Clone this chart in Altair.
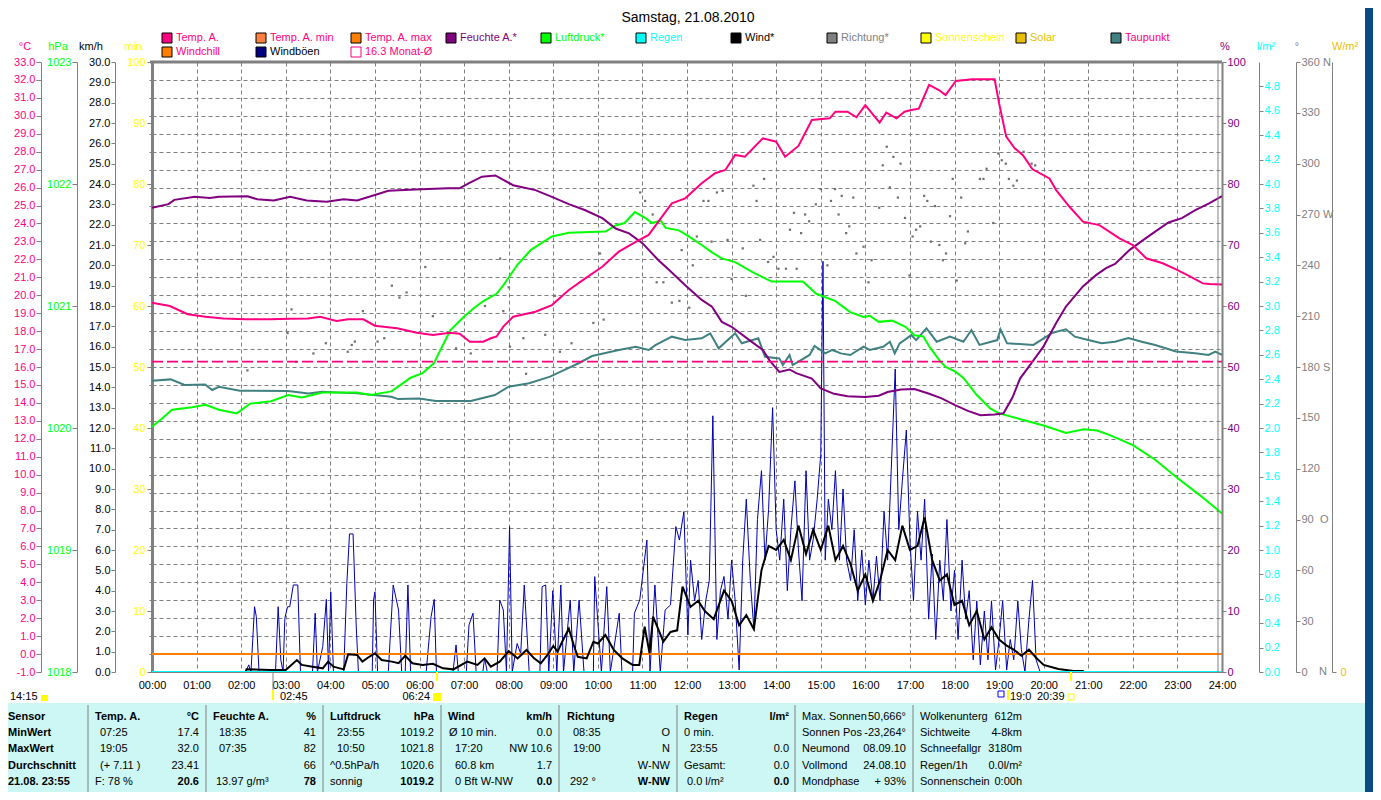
import altair as alt
import pandas as pd

TITLE = "Samstag, 21.08.2010"
HOURS = list(range(0, 25))

# ---------------- data (hour, value) ----------------
TEMP = [(0, 19.58), (0.4, 19.40), (0.8, 18.94), (1.2, 18.80), (1.6, 18.71), (2.1, 18.66), (2.65, 18.66),
        (3.1, 18.69), (3.5, 18.70), (3.77, 18.80), (4.14, 18.56), (4.4, 18.66), (4.74, 18.66), (5.0, 18.30),
        (5.19, 18.25), (5.5, 18.16), (5.94, 17.91), (6.3, 17.78), (6.68, 17.91), (6.9, 17.85), (7.13, 17.41),
        (7.43, 17.41), (7.6, 17.60), (7.73, 17.70), (7.88, 18.25), (8.1, 18.80), (8.6, 19.08), (8.97, 19.45),
        (9.35, 20.29), (9.72, 20.94), (10.1, 21.59), (10.47, 22.43), (10.85, 22.98), (11.14, 23.36),
        (11.44, 24.38), (11.66, 25.12), (11.96, 25.40), (12.33, 26.24), (12.63, 26.80), (12.86, 26.98),
        (13.08, 27.82), (13.3, 27.72), (13.7, 28.75), (14.0, 28.56), (14.2, 27.72), (14.5, 28.32),
        (14.8, 29.77), (15.2, 29.86), (15.33, 30.23), (15.6, 30.23), (15.8, 29.92), (16.0, 30.60),
        (16.32, 29.62), (16.47, 30.18), (16.7, 29.86), (16.88, 30.23), (17.03, 30.32), (17.2, 30.40),
        (17.43, 31.72), (17.65, 31.44), (17.8, 31.16), (18.03, 31.94), (18.4, 32.04), (18.9, 32.04),
        (19.0, 30.70), (19.16, 28.84), (19.35, 28.19), (19.53, 27.82), (19.75, 27.02), (20.13, 26.51),
        (20.28, 25.86), (20.58, 24.93), (20.88, 24.10), (21.25, 23.91), (21.7, 23.17), (22.0, 22.80),
        (22.3, 22.06), (22.67, 21.78), (22.97, 21.44), (23.27, 21.07), (23.57, 20.66), (23.72, 20.63),
        (24.0, 20.6)]

HUM = [(0, 76.1), (0.37, 76.7), (0.5, 77.4), (0.96, 77.9), (1.3, 77.7), (1.5, 77.9), (2.14, 78.0),
       (2.36, 77.5), (2.73, 77.3), (3.1, 77.9), (3.47, 77.3), (3.92, 77.1), (4.3, 77.5), (4.6, 77.3),
       (5.0, 78.2), (5.3, 78.9), (5.9, 79.1), (6.64, 79.3), (6.9, 79.3), (7.1, 80.1), (7.4, 81.2),
       (7.7, 81.4), (7.85, 80.8), (8.1, 79.8), (8.6, 79.0), (8.97, 77.9), (9.35, 76.7), (9.72, 75.7),
       (10.1, 74.4), (10.4, 72.7), (10.7, 71.9), (11.0, 70.3), (11.36, 67.5), (11.6, 65.9), (11.96, 63.4),
       (12.33, 61.0), (12.56, 59.9), (12.78, 57.4), (13.0, 56.6), (13.4, 54.4), (13.7, 52.8), (13.85, 51.1),
       (14.07, 49.2), (14.3, 49.6), (14.45, 49.0), (14.8, 48.1), (15.0, 46.5), (15.3, 45.6), (15.6, 45.2),
       (16.0, 45.1), (16.3, 45.3), (16.5, 45.9), (16.8, 46.3), (17.1, 46.4), (17.4, 45.7), (17.7, 44.9),
       (18.0, 43.8), (18.3, 42.8), (18.58, 42.1), (18.9, 42.2), (19.1, 42.4), (19.3, 45.0), (19.47, 48.1),
       (19.77, 51.1), (19.99, 53.3), (20.28, 57.2), (20.5, 59.9), (20.88, 63.2), (21.18, 65.1),
       (21.4, 66.2), (21.6, 66.9), (21.93, 69.2), (22.23, 70.8), (22.5, 72.2), (22.8, 73.7), (23.1, 74.4),
       (23.4, 75.7), (23.7, 76.8), (23.85, 77.4), (24.0, 78.0)]

PRES = [(0, 1020.01), (0.2, 1020.07), (0.45, 1020.15), (0.9, 1020.17), (1.2, 1020.19), (1.5, 1020.15),
        (1.9, 1020.12), (2.2, 1020.20), (2.67, 1020.22), (3.06, 1020.27), (3.36, 1020.25), (3.83, 1020.29),
        (4.6, 1020.29), (4.9, 1020.27), (5.37, 1020.30), (5.68, 1020.38), (5.79, 1020.41), (6.07, 1020.45),
        (6.32, 1020.53), (6.69, 1020.80), (6.99, 1020.91), (7.21, 1020.98), (7.43, 1021.04), (7.73, 1021.10),
        (7.9, 1021.18), (8.03, 1021.25), (8.2, 1021.34), (8.5, 1021.46), (8.97, 1021.57), (9.35, 1021.60),
        (10.17, 1021.61), (10.4, 1021.66), (10.6, 1021.68), (10.83, 1021.77), (11.07, 1021.72),
        (11.22, 1021.68), (11.41, 1021.70), (11.52, 1021.64), (11.82, 1021.62), (12.04, 1021.57),
        (12.33, 1021.50), (12.56, 1021.44), (12.78, 1021.39), (13.08, 1021.36), (13.46, 1021.28),
        (13.9, 1021.20), (14.6, 1021.20), (14.9, 1021.10), (15.33, 1021.04), (15.66, 1020.95),
        (15.96, 1020.91), (16.1, 1020.92), (16.3, 1020.87), (16.6, 1020.88), (16.9, 1020.83),
        (17.1, 1020.76), (17.3, 1020.75), (17.43, 1020.67), (17.65, 1020.56), (17.8, 1020.50),
        (18.03, 1020.46), (18.2, 1020.41), (18.5, 1020.27), (18.8, 1020.16), (19.0, 1020.12),
        (19.5, 1020.07), (20.0, 1020.02), (20.5, 1019.96), (20.9, 1019.99), (21.2, 1019.98),
        (21.5, 1019.94), (22.0, 1019.86), (22.5, 1019.74), (23.0, 1019.59), (23.5, 1019.45), (24.0, 1019.3)]

DEW = [(0, 15.24), (0.42, 15.31), (0.73, 15.0), (1.19, 15.03), (1.35, 14.72), (1.5, 14.90), (1.97, 14.68),
       (3.05, 14.66), (3.51, 14.53), (3.82, 14.62), (4.6, 14.53), (5.37, 14.34), (5.52, 14.21), (5.99, 14.25),
       (6.37, 14.10), (7.15, 14.10), (7.69, 14.44), (8.0, 14.90), (8.46, 15.09), (8.93, 15.46), (9.24, 15.83),
       (9.57, 16.21), (9.87, 16.61), (10.47, 16.95), (10.85, 17.13), (11.14, 16.95), (11.3, 17.23),
       (11.66, 17.69), (11.96, 17.50), (12.33, 17.60), (12.52, 17.88), (12.71, 17.04), (13.08, 17.88),
       (13.23, 17.32), (13.6, 17.60), (13.75, 16.57), (14.07, 16.48), (14.15, 16.11), (14.3, 16.67),
       (14.37, 16.11), (14.75, 16.67), (14.86, 17.17), (15.1, 16.76), (15.26, 16.95), (15.45, 16.76),
       (15.66, 16.67), (15.96, 17.13), (16.1, 16.95), (16.4, 17.13), (16.55, 17.41), (16.66, 16.76),
       (16.77, 17.32), (17.03, 17.78), (17.14, 17.50), (17.37, 18.16), (17.6, 17.41), (17.9, 17.69),
       (18.2, 17.41), (18.38, 18.06), (18.56, 17.23), (18.96, 17.50), (19.03, 18.10), (19.18, 17.32),
       (19.77, 17.23), (20.0, 17.60), (20.2, 17.91), (20.5, 18.10), (20.7, 17.69), (21.0, 17.50),
       (21.3, 17.32), (21.6, 17.41), (21.9, 17.61), (22.2, 17.41), (22.5, 17.23), (22.97, 16.86),
       (23.4, 16.76), (23.7, 16.67), (23.85, 16.86), (24.0, 16.67)]

WIND = [(2.1, 0.0), (2.12, 0.13), (2.66, 0.1), (3.0, 0.1), (3.25, 0.59), (3.36, 0.35), (3.6, 0.26),
        (3.83, 0.18), (3.95, 0.51), (4.07, 0.26), (4.3, 0.13), (4.4, 0.87), (4.6, 0.84), (4.72, 0.51),
        (4.84, 0.7), (5.0, 0.92), (5.15, 0.59), (5.38, 0.51), (5.53, 0.43), (5.68, 0.8), (5.84, 0.43),
        (6.07, 0.35), (6.3, 0.4), (6.53, 0.18), (6.76, 0.13), (7.07, 0.51), (7.3, 0.35), (7.46, 0.67),
        (7.6, 0.26), (7.8, 0.51), (8.0, 1.03), (8.2, 0.67), (8.4, 1.08), (8.57, 0.67), (8.72, 0.43),
        (8.87, 0.84), (9.0, 1.28), (9.1, 1.0), (9.2, 1.49), (9.35, 2.13), (9.46, 1.33), (9.55, 0.75),
        (9.75, 0.67), (9.9, 1.49), (10.0, 1.4), (10.17, 1.82), (10.36, 1.08), (10.55, 0.67), (10.78, 0.35),
        (10.93, 0.35), (11.05, 2.23), (11.16, 0.92), (11.24, 2.72), (11.47, 1.49), (11.63, 1.97),
        (11.78, 2.05), (11.9, 4.2), (12.08, 3.2), (12.25, 3.5), (12.4, 3.0), (12.6, 2.6), (12.83, 4.0),
        (13.0, 3.5), (13.17, 2.3), (13.33, 2.8), (13.5, 2.1), (13.67, 5.0), (13.83, 6.2), (14.0, 6.0),
        (14.17, 6.5), (14.33, 5.5), (14.5, 7.2), (14.67, 5.8), (14.83, 7.0), (15.0, 6.0), (15.17, 7.2),
        (15.33, 5.5), (15.5, 6.2), (15.67, 5.3), (15.83, 4.0), (16.0, 4.8), (16.17, 3.5), (16.33, 4.5),
        (16.5, 6.0), (16.67, 5.5), (16.83, 7.2), (17.0, 6.0), (17.17, 6.2), (17.33, 7.6), (17.5, 5.5),
        (17.67, 4.5), (17.83, 4.8), (18.0, 3.3), (18.17, 3.5), (18.33, 2.3), (18.5, 3.0), (18.67, 1.6),
        (18.83, 2.2), (19.0, 1.6), (19.17, 1.3), (19.33, 1.1), (19.5, 0.8), (19.67, 1.1), (19.83, 0.7),
        (20.0, 0.35), (20.33, 0.15), (20.67, 0.05), (20.9, 0.05)]

GUST = [(2.1, 0), (2.17, 0.35), (2.22, 0), (2.3, 3.21), (2.34, 2.72), (2.4, 0), (2.77, 0), (2.83, 3.21),
        (2.89, 0.59), (2.94, 0), (2.98, 2.64), (3.04, 3.21), (3.09, 3.21), (3.17, 4.28), (3.27, 4.28),
        (3.33, 0), (3.6, 0), (3.66, 2.89), (3.71, 0), (3.83, 1.25), (3.91, 3.57), (3.96, 0), (4.01, 3.94),
        (4.07, 0), (4.3, 0), (4.37, 4.36), (4.43, 6.79), (4.51, 6.79), (4.58, 2.31), (4.63, 0), (4.94, 0),
        (4.97, 3.54), (5.0, 3.94), (5.06, 0), (5.3, 0), (5.41, 4.28), (5.53, 3.05), (5.6, 0), (5.68, 0),
        (5.74, 4.28), (5.8, 0), (6.15, 0), (6.18, 0.75), (6.26, 2.72), (6.33, 3.57), (6.38, 0), (6.75, 0),
        (6.82, 1.33), (6.87, 0), (7.05, 0), (7.11, 2.31), (7.2, 2.89), (7.27, 0), (7.42, 0), (7.46, 0.67),
        (7.52, 0), (7.74, 0), (7.8, 3.54), (7.88, 3.05), (7.95, 0), (8.02, 7.15), (8.08, 0), (8.19, 1.4),
        (8.27, 0.9), (8.35, 4.28), (8.46, 0), (8.7, 0), (8.75, 4.2), (8.83, 4.28), (8.9, 0), (8.99, 4.0),
        (9.08, 0), (9.17, 4.28), (9.23, 0), (9.38, 3.54), (9.46, 0), (9.58, 3.54), (9.69, 0), (9.9, 0),
        (9.93, 4.69), (10.0, 2.48), (10.08, 0), (10.2, 4.2), (10.28, 0), (10.48, 2.89), (10.54, 0),
        (10.78, 0), (10.82, 2.89), (10.94, 3.54), (11.1, 6.49), (11.17, 0), (11.28, 4.28), (11.4, 0),
        (11.51, 3.05), (11.63, 3.3), (11.75, 7.15), (11.83, 6.49), (11.93, 7.89), (12.02, 1.82),
        (12.08, 5.5), (12.17, 3.5), (12.25, 4.5), (12.33, 1.6), (12.42, 3.5), (12.5, 4.5), (12.58, 12.6),
        (12.67, 1.6), (12.75, 4.0), (12.83, 4.7), (12.92, 2.6), (13.0, 5.5), (13.08, 3.5), (13.17, 0.1),
        (13.25, 5.5), (13.33, 8.5), (13.42, 4.5), (13.5, 2.1), (13.58, 7.5), (13.67, 9.9), (13.75, 5.5),
        (13.83, 8.0), (13.92, 13.0), (14.0, 7.0), (14.08, 5.5), (14.17, 8.5), (14.25, 4.0), (14.33, 7.0),
        (14.42, 9.4), (14.5, 6.0), (14.58, 3.5), (14.67, 9.9), (14.75, 5.5), (14.83, 6.5), (14.92, 8.5),
        (15.0, 10.7), (15.05, 20.2), (15.1, 5.5), (15.17, 8.5), (15.25, 7.0), (15.33, 9.9), (15.42, 5.5),
        (15.5, 9.0), (15.58, 5.5), (15.67, 4.5), (15.75, 7.0), (15.83, 3.5), (15.92, 6.0), (16.0, 3.3),
        (16.08, 5.5), (16.17, 3.5), (16.25, 5.7), (16.33, 3.5), (16.42, 7.9), (16.5, 5.5), (16.58, 9.9),
        (16.67, 14.9), (16.75, 7.0), (16.83, 9.4), (16.92, 11.9), (17.0, 6.5), (17.08, 3.5), (17.17, 7.9),
        (17.25, 5.5), (17.33, 8.5), (17.42, 2.6), (17.5, 5.8), (17.58, 1.6), (17.67, 5.5), (17.75, 3.5),
        (17.83, 7.5), (17.92, 3.0), (18.0, 5.0), (18.08, 1.6), (18.17, 5.5), (18.25, 2.6), (18.33, 4.0),
        (18.42, 0.6), (18.5, 3.5), (18.58, 0.35), (18.67, 3.0), (18.75, 0.6), (18.83, 3.5), (18.92, 0.1),
        (19.0, 1.6), (19.08, 3.5), (19.17, 0.1), (19.25, 1.6), (19.33, 0.6), (19.42, 3.5), (19.5, 1.1),
        (19.58, 0), (19.67, 2.6), (19.75, 4.5), (19.83, 0.6), (19.92, 0), (20.0, 0)]

DIR = [(2.14, 178), (3.04, 200), (3.13, 214), (3.23, 183), (3.62, 188), (3.9, 194), (4.39, 189), (4.48, 193),
       (4.55, 195), (4.73, 213), (5.06, 195), (5.21, 197), (5.38, 228), (5.55, 221), (5.71, 224), (6.13, 239),
       (6.3, 210), (6.82, 191), (7.15, 188), (7.47, 216), (7.81, 244), (7.88, 213), (8.0, 227), (8.03, 192),
       (8.33, 197), (8.39, 176), (8.82, 199), (9.04, 222), (9.15, 189), (9.41, 194), (9.9, 206), (10.05, 247),
       (10.13, 208), (10.95, 283), (11.06, 278), (11.23, 270), (11.32, 230), (11.47, 230), (11.66, 218),
       (11.83, 219), (11.88, 249), (12.05, 215), (12.13, 240), (12.22, 257), (12.37, 278), (12.48, 278),
       (12.55, 254), (12.67, 283), (12.8, 284), (12.91, 255), (13.0, 232), (13.25, 250), (13.32, 222),
       (13.49, 287), (13.56, 278), (13.64, 255), (13.73, 291), (13.82, 242), (13.94, 245), (14.05, 238),
       (14.22, 238), (14.31, 261), (14.4, 271), (14.46, 238), (14.56, 259), (14.65, 270), (14.74, 266),
       (14.89, 276), (15.0, 285), (15.15, 240), (15.23, 278), (15.32, 285), (15.4, 270), (15.47, 281),
       (15.57, 259), (15.64, 263), (15.73, 280), (15.8, 247), (15.96, 251), (16.07, 230), (16.14, 243),
       (16.31, 274), (16.39, 299), (16.48, 310), (16.55, 286), (16.63, 304), (16.73, 280), (16.79, 300),
       (16.89, 268), (16.99, 234), (17.06, 257), (17.14, 261), (17.23, 263), (17.32, 281), (17.39, 278),
       (17.47, 254), (17.56, 275), (17.66, 252), (17.74, 243), (17.81, 247), (17.9, 269), (17.96, 291),
       (18.05, 231), (18.15, 280), (18.24, 253), (18.3, 260), (18.57, 291), (18.65, 291), (18.72, 297),
       (18.87, 265), (18.98, 306), (19.06, 302), (19.15, 300), (19.22, 291), (19.32, 287), (19.4, 290),
       (19.55, 307), (19.73, 300), (19.81, 299)]

MONAT_AVG = 16.3
WINDCHILL = 0.0
RAIN = 0.0
SUN_MIN = 0.0
SOLAR = 0.0

LEGEND_ROW1 = ["Temp. A.", "Temp. A. min", "Temp. A. max", "Feuchte A.*", "Luftdruck*", "Regen",
               "Wind*", "Richtung*", "Sonnenschein", "Solar", "Taupunkt"]
LEGEND_ROW2 = ["Windchill", "Windböen", f"{MONAT_AVG} Monat-Ø"]

TABLE_HEAD = ["Sensor", "MinWert", "MaxWert", "Durchschnitt", "21.08. 23:55"]

# ---------------- layout ----------------
PX0, PY0, PW, PH = 152, 62, 1070, 610
FONT = "Liberation Sans"
C_TEMP, C_HUM, C_PRES, C_DEW = "#FF0080", "#800080", "#00FF00", "#408080"
C_GUST, C_DIR, C_RAIN, C_SUN, C_SOLAR = "#0000B0", "#707070", "#00FFFF", "#FFFF00", "#E8C000"
GRAY = "#808080"

XS = alt.Scale(domain=[0, 24], nice=False, zero=False)
XAX = alt.Axis(values=HOURS, labelExpr="(datum.value < 10 ? '0' : '') + datum.value + ':00'",
               grid=True, gridDash=[4, 3], gridColor=GRAY, gridOpacity=1, ticks=False, labelPadding=7,
               labelFlush=False, domainColor=GRAY, labelColor="black", labelFont=FONT, labelFontSize=11,
               title=None)
XENC = alt.X("h:Q", scale=XS, axis=XAX)


def ysc(lo, hi):
    return alt.Scale(domain=[lo, hi], nice=False, zero=False)


def side_axis(orient, offset, values, color, expr=None, tick=5, pad=1, grid=False, labels=True, dwidth=1):
    kw = dict(orient=orient, offset=offset, values=values, labelColor=color, tickColor=GRAY,
              domainColor=GRAY, domainWidth=dwidth, tickSize=tick, labelPadding=pad, grid=grid,
              labels=labels, labelFlush=False, title=None, labelFont=FONT, labelFontSize=11)
    if expr:
        kw["labelExpr"] = expr
    if grid:
        kw.update(gridDash=[4, 3], gridColor=GRAY, gridOpacity=1)
    return alt.Axis(**kw)


def series(pairs, lo, hi, color, width, axis, dash=None):
    df = pd.DataFrame(pairs, columns=["h", "v"])
    mk = dict(color=color, strokeWidth=width, clip=True)
    if dash:
        mk["strokeDash"] = dash
    return alt.Chart(df).mark_line(**mk).encode(
        x=XENC, y=alt.Y("v:Q", scale=ysc(lo, hi), axis=axis))


def flat(value):
    return [(0, value), (24, value)]


def px(v):
    return v - PX0


def py(v):
    return v - PY0


def text_layer(items, align="left", bold=False, size=11):
    df = pd.DataFrame([{"t": t, "x": px(x), "y": py(y), "c": c} for (t, x, y, c) in items])
    return alt.Chart(df).mark_text(align=align, baseline="middle", font=FONT, fontSize=size,
                                   fontWeight="bold" if bold else "normal").encode(
        x=alt.X("x:Q", scale=None, axis=None), y=alt.Y("y:Q", scale=None, axis=None),
        text="t:N", color=alt.Color("c:N", scale=None))


def rect_layer(items, sw=1):
    df = pd.DataFrame([{"x1": px(a), "y1": py(b), "x2": px(c), "y2": py(d), "f": f, "s": s}
                       for (a, b, c, d, f, s) in items])
    return alt.Chart(df).mark_rect(strokeWidth=sw).encode(
        x=alt.X("x1:Q", scale=None, axis=None), x2="x2:Q",
        y=alt.Y("y1:Q", scale=None, axis=None), y2="y2:Q",
        fill=alt.Fill("f:N", scale=None), stroke=alt.Stroke("s:N", scale=None))


def rule_layer(items, width=1):
    df = pd.DataFrame([{"x1": px(a), "y1": py(b), "x2": px(c), "y2": py(d), "c": col}
                       for (a, b, c, d, col) in items])
    return alt.Chart(df).mark_rule(strokeWidth=width).encode(
        x=alt.X("x1:Q", scale=None, axis=None), x2="x2:Q",
        y=alt.Y("y1:Q", scale=None, axis=None), y2="y2:Q",
        color=alt.Color("c:N", scale=None))


# ---------------- data layers ----------------
neg_fmt = "(datum.value < 0 ? '-' : '') + format(abs(datum.value), '.1f')"
dir_expr = ("datum.value == 360 ? '360 N' : datum.value == 270 ? '270 W' : "
            "datum.value == 180 ? '180 S' : datum.label")

sun_layer = series(flat(SUN_MIN), 0, 100, C_SUN, 1,
                   side_axis("left", 0, list(range(0, 101, 10)), C_SUN, tick=5, pad=2))
solar_layer = series(flat(SOLAR), 0, 1000, C_SOLAR, 1,
                     side_axis("right", 110, [0], C_SOLAR, tick=4, pad=4))
grid_layer = series(flat(-1), -1, 33, GRAY, 0.5,
                    side_axis("left", 0, list(range(-1, 34)), GRAY, tick=3, pad=1, grid=True,
                              labels=False, dwidth=3))
gust_layer = series(GUST, 0, 30, C_GUST, 1, None)
chill_layer = series(flat(WINDCHILL), -1, 33, "#FF8000", 2, None)
wind_layer = series(WIND, 0, 30, "black", 2,
                    side_axis("left", 37, list(range(0, 31)), "black", expr="format(datum.value, '.1f')",
                              tick=4, pad=1))
dir_layer = alt.Chart(pd.DataFrame(DIR, columns=["h", "v"])).mark_square(
    size=5, color=C_DIR, opacity=1, filled=True).encode(
    x=XENC, y=alt.Y("v:Q", scale=ysc(0, 360),
                    axis=side_axis("right", 74, list(range(0, 361, 30)), GRAY, expr=dir_expr, tick=4, pad=1)))
dew_layer = series(DEW, -1, 33, C_DEW, 2, None)
pres_layer = series(PRES, 1018, 1023, C_PRES, 2,
                    side_axis("left", 75, list(range(1018, 1024)), C_PRES, expr="format(datum.value, 'd')",
                              tick=5, pad=1))
hum_layer = series(HUM, 0, 100, C_HUM, 2,
                   side_axis("right", 0, list(range(0, 101, 10)), C_HUM, tick=4, pad=1, dwidth=2))
temp_layer = series(TEMP, -1, 33, C_TEMP, 2,
                    side_axis("left", 111, list(range(-1, 34)), C_TEMP, expr=neg_fmt, tick=5, pad=1))
monat_layer = series(flat(MONAT_AVG), -1, 33, C_TEMP, 1.6, None, dash=[11, 4])
rain_layer = series(flat(RAIN), 0, 5, C_RAIN, 2,
                    side_axis("right", 37, [round(i * 0.2, 1) for i in range(25)], C_RAIN,
                              expr="format(datum.value, '.1f')", tick=4, pad=1))

# ---------------- decorations ----------------
bg_rects = rect_layer([
    (0, 703, 1365, 800, "#CCF7F5", "transparent"),
    (1365, 0, 1381, 800, "#0B4A85", "transparent"),
])

rules = rule_layer([
    (1218, 62, 1218, 672, GRAY),
    (273, 672, 273, 690, GRAY),
    (88, 705, 88, 792, GRAY), (206, 705, 206, 792, GRAY), (323, 705, 323, 792, GRAY),
    (441, 705, 441, 792, GRAY), (559, 705, 559, 792, GRAY), (677, 705, 677, 792, GRAY),
    (795, 705, 795, 792, GRAY), (913, 705, 913, 792, GRAY),
], width=1)
top_rule = rule_layer([(150, 62, 1222, 62, GRAY)], width=3)
yellow_rules = rule_layer([
    (273, 690, 273, 700, C_SUN), (437, 672, 437, 681, C_SUN), (1071, 672, 1071, 681, C_SUN),
    (1008, 690, 1008, 700, C_SUN),
], width=2)

LEG_X = [162, 256, 351, 446, 541, 636, 731, 827, 921, 1016, 1111]
LEG_FILL = [C_TEMP, "#FF8040", "#FF8000", C_HUM, C_PRES, C_RAIN, "black", GRAY, C_SUN, C_SOLAR, C_DEW]
LEG_TXT = [C_TEMP, C_TEMP, C_TEMP, C_HUM, C_PRES, C_RAIN, "black", GRAY, C_SUN, C_SOLAR, C_TEMP]
LEG2_FILL = ["#FF8000", "#000080", "white"]
LEG2_STROKE = ["black", "black", C_TEMP]
LEG2_TXT = [C_TEMP, "black", C_TEMP]

leg_rects = rect_layer(
    [(x, 33, x + 10, 43, f, "black") for x, f in zip(LEG_X, LEG_FILL)]
    + [(x, 47, x + 10, 57, f, s) for x, f, s in zip(LEG_X[:3], LEG2_FILL, LEG2_STROKE)]
    + [(41, 695, 48, 701, C_SUN, "transparent"), (433, 693, 441, 701, C_SUN, "transparent"),
       (1068, 694, 1074, 700, "transparent", C_SUN), (998, 691, 1004, 697, "transparent", "#0000FF")])

legend_texts = ([(t, x + 14, 38, c) for t, x, c in zip(LEGEND_ROW1, LEG_X, LEG_TXT)]
                + [(t, x + 14, 52, c) for t, x, c in zip(LEGEND_ROW2, LEG_X[:3], LEG2_TXT)])

center_texts = [("°C", 25, 47, C_TEMP), ("hPa", 58, 47, C_PRES), ("km/h", 91, 47, "black"),
                ("min", 133, 47, C_SUN), ("%", 1225, 47, C_HUM), ("l/m²", 1266, 47, C_RAIN),
                ("°", 1297, 47, GRAY), ("W/m²", 1345, 47, C_SOLAR)]

misc_left = [("O", 1320, 520, GRAY), ("N", 1319, 672, GRAY),
             ("14:15", 10, 697, "black"), ("02:45", 280, 697, "black"),
             ("19:0", 1010, 697, "black"), ("20:39", 1037, 697, "black")]
misc_right = [("06:24", 430, 697, "black")]

ROWS = [717, 733, 749, 766, 782]
K = "black"
tbl_bold_left = [(t, 8, y, K) for t, y in zip(TABLE_HEAD, ROWS)] + [
    ("Temp. A.", 95, 717, K), ("Feuchte A.", 213, 717, K), ("Luftdruck", 330, 717, K),
    ("Wind", 448, 717, K), ("Richtung", 567, 717, K), ("Regen", 684, 717, K)]
tbl_bold_right = [("°C", 199, 717, K), ("%", 316, 717, K), ("hPa", 434, 717, K), ("km/h", 552, 717, K),
                  ("l/m²", 789, 717, K),
                  ("20.6", 199, 782, K), ("78", 316, 782, K), ("1019.2", 434, 782, K), ("0.0", 552, 782, K),
                  ("W-NW", 670, 782, K), ("0.0", 789, 782, K)]
tbl_left = [("07:25", 100, 733, K), ("19:05", 100, 749, K), ("(+ 7.11 )", 100, 766, K), ("F: 78 %", 95, 782, K),
            ("18:35", 219, 733, K), ("07:35", 219, 749, K), ("13.97 g/m³", 216, 782, K),
            ("23:55", 337, 733, K), ("10:50", 337, 749, K), ("^0.5hPa/h", 330, 766, K), ("sonnig", 330, 782, K),
            ("Ø 10 min.", 449, 733, K), ("17:20", 455, 749, K), ("60.8 km", 455, 766, K),
            ("0 Bft W-NW", 455, 782, K),
            ("08:35", 573, 733, K), ("19:00", 573, 749, K), ("292 °", 570, 782, K),
            ("0 min.", 684, 733, K), ("23:55", 690, 749, K), ("Gesamt:", 684, 766, K), ("0.0 l/m²", 687, 782, K),
            ("Max. Sonnen", 802, 717, K), ("Sonnen Pos", 802, 733, K), ("Neumond", 802, 749, K),
            ("Vollmond", 802, 766, K), ("Mondphase", 802, 782, K),
            ("Wolkenunterg", 920, 717, K), ("Sichtweite", 920, 733, K), ("Schneefallgr", 920, 749, K),
            ("Regen/1h", 920, 766, K), ("Sonnenschein", 920, 782, K)]
tbl_right = [("17.4", 199, 733, K), ("32.0", 199, 749, K), ("23.41", 199, 766, K),
             ("41", 316, 733, K), ("82", 316, 749, K), ("66", 316, 766, K),
             ("1019.2", 434, 733, K), ("1021.8", 434, 749, K), ("1020.6", 434, 766, K),
             ("0.0", 552, 733, K), ("NW 10.6", 552, 749, K), ("1.7", 552, 766, K),
             ("O", 670, 733, K), ("N", 670, 749, K), ("W-NW", 670, 766, K),
             ("0.0", 789, 749, K), ("0.0", 789, 766, K),
             ("50,666°", 906, 717, K), ("-23,264°", 906, 733, K), ("08.09.10", 906, 749, K),
             ("24.08.10", 906, 766, K), ("+ 93%", 906, 782, K),
             ("612m", 1022, 717, K), ("4-8km", 1022, 733, K), ("3180m", 1022, 749, K),
             ("0.0l/m²", 1022, 766, K), ("0:00h", 1022, 782, K)]

layers = [
    bg_rects,
    grid_layer, sun_layer, solar_layer, gust_layer, chill_layer, wind_layer, dir_layer, dew_layer,
    pres_layer, hum_layer, temp_layer, monat_layer, rain_layer,
    rules, top_rule, yellow_rules, leg_rects,
    text_layer([(TITLE, 688, 18, "black")], align="center", size=14),
    text_layer(legend_texts),
    text_layer(center_texts, align="center"),
    text_layer(misc_left),
    text_layer(misc_right, align="right"),
    text_layer(tbl_bold_left, bold=True),
    text_layer(tbl_bold_right, align="right", bold=True),
    text_layer(tbl_left),
    text_layer(tbl_right, align="right"),
]

chart = alt.layer(*layers).resolve_scale(y="independent").properties(
    width=PW, height=PH,
    autosize=alt.AutoSizeParams(type="none"),
    padding={"left": 144, "top": 54, "right": 151, "bottom": 120},
    background="white",
).configure_view(strokeWidth=0)

chart.save("out.html", embed_options={"renderer": "svg", "actions": False})
